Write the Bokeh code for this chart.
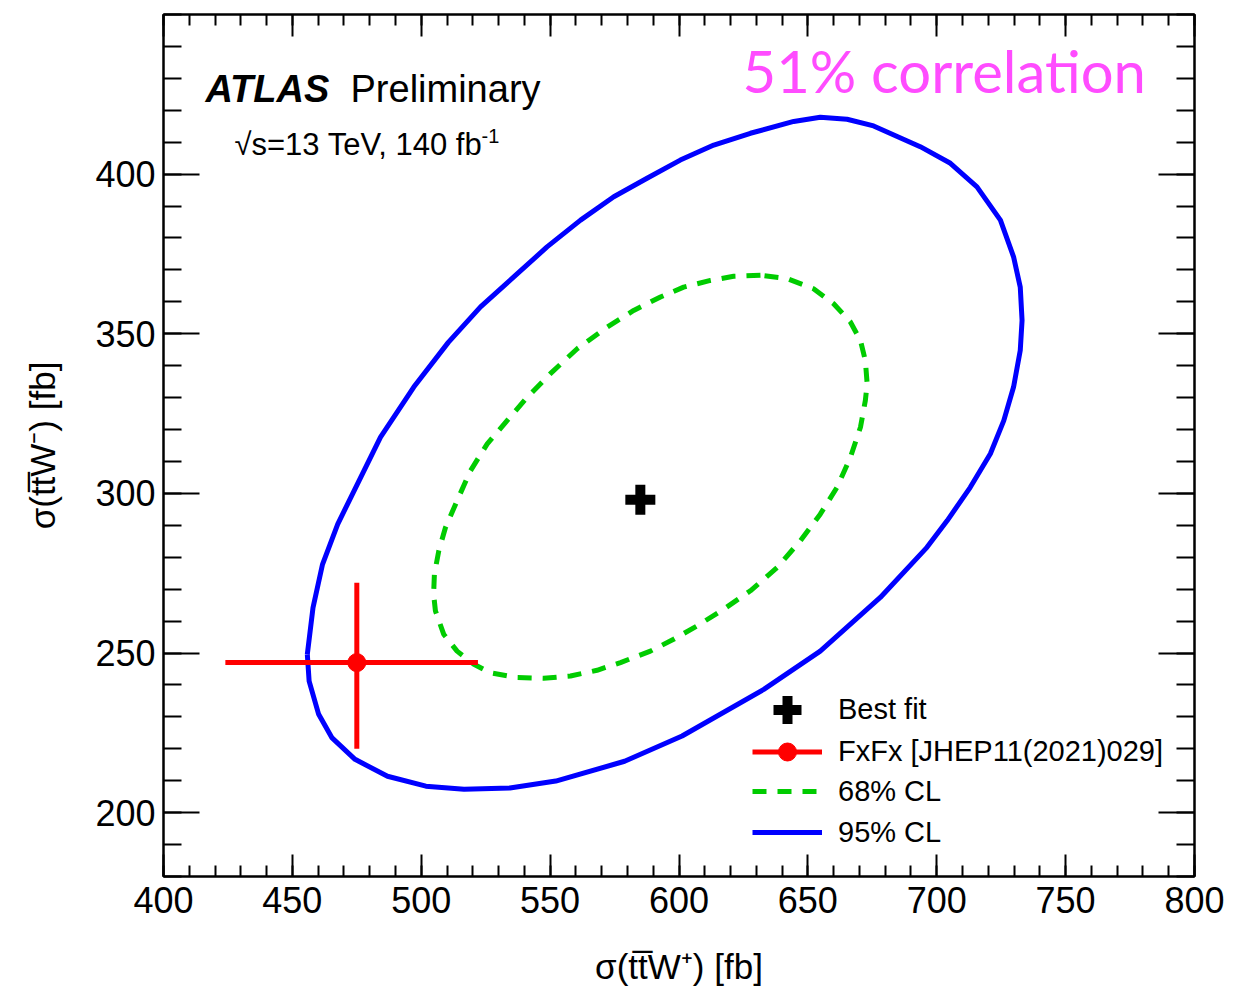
from bokeh.plotting import figure
from bokeh.models import Range1d, FixedTicker, LinearAxis, Label, Legend, LegendItem, ColumnDataSource
from bokeh.embed import file_html
from bokeh.resources import INLINE

# ---------------- data ----------------
bestfit_x = [585.0]
bestfit_y = [298.0]

fxfx_x = [475.0]
fxfx_y = [247.0]
fxfx_xlo = [424.0]
fxfx_xhi = [522.0]
fxfx_ylo = [220.0]
fxfx_yhi = [272.0]

cl95_x = [455.8, 458.0, 461.7, 467.6, 484.2, 497.1, 510.5, 523.0, 535.9, 548.8,
          561.8, 574.7, 587.6, 600.5, 613.5, 627.7, 644.5, 654.8, 665.2, 675.5, 693.6, 705.3,
          715.6, 724.7, 729.8, 732.4, 733.1, 732.4, 729.8, 726.0, 720.8, 713.0, 704.0, 696.2,
          678.1, 654.8, 632.9, 601.2, 578.9, 552.2, 534.4, 516.6, 501.8, 486.9, 474.3, 465.4,
          460.2, 456.5, 455.8]
cl95_y = [249.6, 264.2, 277.8, 290.4, 317.6, 333.3, 347.3, 358.4, 367.8, 377.2,
          385.6, 392.9, 398.7, 404.4, 409.1, 412.8, 416.5, 417.8, 417.2, 415.1, 408.6, 403.4,
          396.0, 385.6, 374.1, 364.6, 354.2, 344.8, 333.3, 322.8, 312.4, 301.9, 291.4, 283.1,
          267.4, 250.6, 238.6, 224.0, 216.1, 209.9, 207.7, 207.3, 208.3, 211.4, 216.7, 223.4,
          230.8, 241.2, 249.6]

cl68_x = [631.6, 621.2, 612.2, 601.8, 592.8, 582.4, 572.1, 560.5, 550.1, 541.1, 533.3, 525.6,
          519.1, 513.9, 509.4, 506.8, 505.1, 504.8, 505.5, 508.7, 513.9, 520.4, 526.8, 537.2,
          547.5, 557.9, 568.2, 577.3, 588.9, 597.9, 607.0, 617.3, 627.7, 638.1, 647.1, 654.8,
          661.3, 666.5, 670.4, 672.3, 673.0, 672.3, 670.4, 666.5, 660.0, 652.2, 641.9, 631.6]
cl68_y = [368.3, 368.0, 366.7, 364.6, 361.5, 357.3, 352.1, 345.3, 337.5, 330.1, 322.8, 315.5,
          307.1, 297.7, 289.3, 282.0, 274.7, 268.4, 263.2, 255.9, 250.6, 246.5, 243.8, 242.3,
          242.1, 242.8, 244.6, 247.0, 250.6, 254.3, 258.5, 263.7, 269.5, 276.8, 285.2, 293.5,
          301.9, 311.3, 320.7, 329.1, 334.3, 341.6, 347.9, 353.7, 359.4, 364.1, 367.3, 368.3]

x_major = [400, 450, 500, 550, 600, 650, 700, 750, 800]
x_minor = list(range(400, 801, 10))
y_major = [200, 250, 300, 350, 400]
y_minor = list(range(180, 451, 10))

x_title = "\u03c3(tt\u0305W\u207a) [fb]"
y_title = "\u03c3(tt\u0305W\u207b) [fb]"
legend_labels = ["Best fit", "FxFx [JHEP11(2021)029]", "68% CL", "95% CL"]

FONT = "Liberation Sans"

# ---------------- figure ----------------
p = figure(width=1254, height=988, x_range=Range1d(400, 800), y_range=Range1d(180, 450),
           output_backend="svg", toolbar_location=None,
           min_border_left=163, min_border_right=60, min_border_top=14, min_border_bottom=112)
p.grid.visible = False
p.outline_line_color = "black"
p.outline_line_width = 2
p.background_fill_color = "white"
p.border_fill_color = "white"


def style_axis(ax, major, minor, tmaj, tmin, labels=True):
    ax.ticker = FixedTicker(ticks=major, minor_ticks=minor)
    ax.major_tick_in = tmaj
    ax.major_tick_out = 0
    ax.minor_tick_in = tmin
    ax.minor_tick_out = 0
    ax.major_tick_line_width = 2
    ax.minor_tick_line_width = 2
    ax.major_tick_line_color = "black"
    ax.minor_tick_line_color = "black"
    ax.axis_line_width = 2
    ax.axis_line_color = "black"
    if labels:
        ax.major_label_text_font = FONT
        ax.major_label_text_font_size = "36px"
        ax.major_label_text_color = "black"
        ax.axis_label_text_font = FONT
        ax.axis_label_text_font_size = "35px"
        ax.axis_label_text_font_style = "normal"
        ax.axis_label_text_color = "black"
    else:
        ax.major_label_text_font_size = "0px"
        ax.major_label_text_alpha = 0
        ax.major_label_standoff = 0


xa = p.xaxis[0]
ya = p.yaxis[0]
style_axis(xa, x_major, x_minor, 22, 11)
style_axis(ya, y_major, y_minor, 36, 18)
xa.axis_label = x_title
ya.axis_label = y_title
xa.major_label_standoff = 10
xa.axis_label_standoff = 31
ya.major_label_standoff = 8
ya.axis_label_standoff = 30

xt = LinearAxis()
style_axis(xt, x_major, x_minor, 22, 11, labels=False)
p.add_layout(xt, "above")
yr = LinearAxis()
style_axis(yr, y_major, y_minor, 36, 18, labels=False)
p.add_layout(yr, "right")

# ---------------- glyphs ----------------
r95 = p.line(cl95_x, cl95_y, line_color="#0000ff", line_width=5, line_join="round")
r68 = p.line(cl68_x, cl68_y, line_color="#00cc00", line_width=5, line_dash="14 11")

fx_src = ColumnDataSource(dict(x=fxfx_x, y=fxfx_y, xlo=fxfx_xlo, xhi=fxfx_xhi,
                               ylo=fxfx_ylo, yhi=fxfx_yhi))
r_fxh = p.segment(x0="xlo", y0="y", x1="xhi", y1="y", source=fx_src, line_color="#ff0000", line_width=5)
r_fxv = p.segment(x0="x", y0="ylo", x1="x", y1="yhi", source=fx_src, line_color="#ff0000", line_width=5)
r_fxc = p.scatter(x="x", y="y", source=fx_src, marker="circle", size=18,
                  fill_color="#ff0000", line_color="#ff0000")
r_fxx = p.scatter(x="x", y="y", source=fx_src, marker="cross", size=18,
                  line_color="#ff0000", line_width=3)

r_bf = p.scatter(bestfit_x, bestfit_y, marker="cross", size=30, line_color="black", line_width=10)

# ---------------- legends ----------------
leg_specs = [
    (legend_labels[0], [r_bf], 75, 167),
    (legend_labels[1], [r_fxh, r_fxc, r_fxx], 45, 125),
    (legend_labels[2], [r68], 36, 85),
    (legend_labels[3], [r95], 36, 44),
]
for lab, rends, gh, center in leg_specs:
    leg = Legend(items=[LegendItem(label=lab, renderers=rends)],
                 location=(589, center - gh / 2), orientation="vertical",
                 glyph_width=70, glyph_height=gh, label_height=gh, label_standoff=16,
                 padding=0, margin=0, spacing=0,
                 border_line_alpha=0, background_fill_alpha=0,
                 label_text_font=FONT, label_text_font_size="29px", label_text_color="black")
    p.add_layout(leg)

# ---------------- texts ----------------
p.add_layout(Label(x=42, y=788, x_units="screen", y_units="screen", text="ATLAS",
                   text_font=FONT, text_font_style="bold italic", text_font_size="38px",
                   text_baseline="alphabetic", text_color="black"))
p.add_layout(Label(x=187, y=788, x_units="screen", y_units="screen", text="Preliminary",
                   text_font=FONT, text_font_size="38px",
                   text_baseline="alphabetic", text_color="black"))
p.add_layout(Label(x=71, y=732, x_units="screen", y_units="screen", text="\u221as=13 TeV, 140 fb",
                   text_font=FONT, text_font_size="31px",
                   text_baseline="alphabetic", text_color="black"))
p.add_layout(Label(x=318, y=741, x_units="screen", y_units="screen", text="-1",
                   text_font=FONT, text_font_size="20px",
                   text_baseline="alphabetic", text_color="black"))
p.add_layout(Label(x=579, y=806, x_units="screen", y_units="screen", text="51% correlation",
                   text_font="Lato", text_font_size="58px",
                   text_baseline="alphabetic", text_color="#ff4cff"))

open("out.html", "w").write(file_html(p, INLINE))
